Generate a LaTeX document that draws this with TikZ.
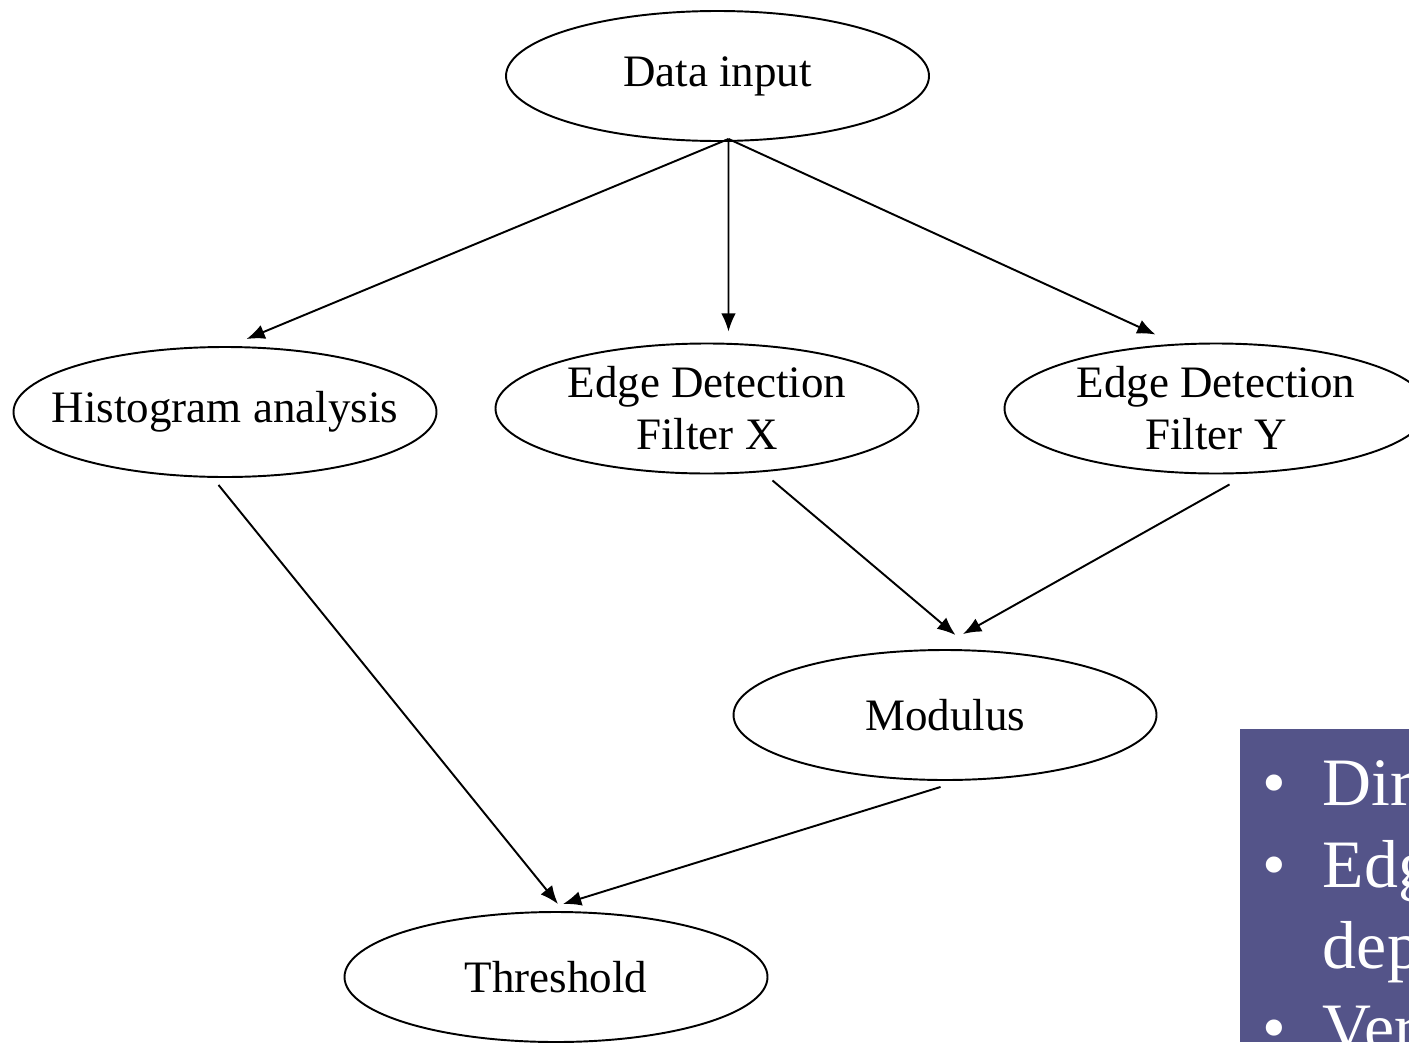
\documentclass[tikz,border=0pt]{standalone}
\usepackage{fontspec}
\setmainfont{Liberation Serif}
\usetikzlibrary{arrows.meta,shapes.geometric,positioning,calc}
\definecolor{panelblue}{RGB}{84,84,137}
\tikzset{
stage/.style = {draw, ellipse, minimum width=4.23cm, minimum height=1.3cm, inner xsep=-0.25cm, inner ysep=0pt, align=center, font=\fontsize{12.8}{14.8}\selectfont},
tip/.style   = {coordinate},
item/.style  = {text=white, anchor=base west, inner sep=0pt, font=\fontsize{19.3}{23}\selectfont}
}

\begin{document}
\begin{tikzpicture}[auto, node distance=3.3cm, >={Latex[length=5.2pt,width=4.2pt]}, line width=0.55pt]
  \useasboundingbox (0,0) rectangle (14.09,-10.42);
  \fill [panelblue] (12.40,-7.29) rectangle (14.09,-10.42);

  \node [stage]                                                   (data)      at (7.175,-0.76) {Data input};
  \node [stage, below of=data, node distance=3.325cm, xshift=-0.105cm] (filtx)  {Edge Detection\\Filter X};
  \node [stage, left of=filtx, node distance=4.82cm, yshift=-0.035cm]  (hist)   {Histogram analysis};
  \node [stage, right of=filtx, node distance=5.09cm]             (filty)     {Edge Detection\\Filter Y};
  \node [stage, below of=filtx, node distance=3.065cm, xshift=2.38cm]  (modulus) {Modulus};
  \node [stage, below of=hist, node distance=5.65cm, xshift=3.31cm]    (thresh)  {Threshold};

  \coordinate (dsrc)  at ($(data.south)+(0.11,0.03)$);
  \coordinate (hsrc)  at ($(hist.south)+(-0.065,-0.07)$);
  \coordinate (xsrc)  at ($(filtx.south)+(0.655,-0.06)$);
  \coordinate (ysrc)  at ($(filty.south)+(0.135,-0.10)$);
  \coordinate (msrc)  at ($(modulus.south)+(-0.045,-0.06)$);
  \coordinate (htip)  at ($(hist.north)+(0.215,0.07)$);
  \coordinate (xtip)  at ($(filtx.north)+(0.215,0.11)$);
  \coordinate (ytip)  at ($(filty.north)+(-0.605,0.08)$);
  \coordinate (mtip1) at ($(modulus.north)+(0.105,0.14)$);
  \coordinate (mtip2) at ($(modulus.north)+(0.18,0.15)$);
  \coordinate (ttip1) at ($(thresh.north)+(0.02,0.07)$);
  \coordinate (ttip2) at ($(thresh.north)+(0.07,0.07)$);

  \draw [->] (dsrc) -- (htip);
  \draw [->] (dsrc) -- (xtip);
  \draw [->] (dsrc) -- (ytip);
  \draw [->] (xsrc) -- (mtip1);
  \draw [->] (ysrc) -- (mtip2);
  \draw [->] (hsrc) -- (ttip1);
  \draw [->] (msrc) -- (ttip2);

  % panel text, cut by the page edge
  \node [item] (b1) at (12.62,-8.05) {•};
  \node [item] (l1) at (13.22,-8.05) {Dir};
  \node [item] (b2) at (12.62,-8.87) {•};
  \node [item] (l2) at (13.22,-8.87) {Edg};
  \node [item] (l3) at (13.22,-9.68) {dep};
  \node [item] (b4) at (12.62,-10.50) {•};
  \node [item] (l4) at (13.22,-10.50) {Ver};
\end{tikzpicture}
\end{document}
